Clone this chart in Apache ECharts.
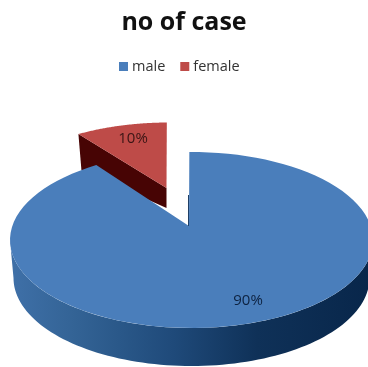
<!DOCTYPE html>
<html><head><meta charset="utf-8">
<style>html,body{margin:0;padding:0;background:#fff}#c{width:368px;height:367px}#c canvas{filter:blur(.45px)}</style>
<script src="https://cdn.jsdelivr.net/npm/echarts@6/dist/echarts.min.js"></script>
</head><body><div id="c"></div>
<script>
var categories = ['male', 'female'];
var values = [90, 10];
var labels = ['90%', '10%'];
var colors = ['#4a7ebb', '#be4b48'];

var chart = echarts.init(document.getElementById('c'), null, {renderer: 'canvas'});
var CX = 191.5, CY = 240, RX = 181.5, RY = 88, APEX = 14 / 88, START = -0.014;

function project(theta) {
  var t = theta + START;
  var u = Math.sin(t), v = -Math.cos(t);
  var d = 1 - APEX * v;
  return [u * Math.sqrt(1 - APEX * APEX) / d * RX, (v - APEX) / d * RY];
}
function arcPts(a0, a1) {
  var n = 90, pts = [];
  for (var i = 0; i <= n; i++) pts.push(project(a0 + (a1 - a0) * i / n));
  return pts;
}
function xf(pts, ox, oy, sx, sy) {
  return pts.map(function (p) { return [ox + p[0] * sx, oy + p[1] * (sy === undefined ? sx : sy)]; });
}
function ellipseLower(cx, cy, rx, ry, reverse) {
  var n = 90, pts = [];
  for (var i = 0; i <= n; i++) {
    var t = Math.PI * (reverse ? n - i : i) / n;
    pts.push([cx + rx * Math.cos(t), cy + ry * Math.sin(t)]);
  }
  return pts;
}
function poly(points, style, z) {
  return {type: 'polygon', shape: {points: points}, style: style, z2: z};
}

function renderItem(params, api) {
  var total = values[0] + values[1];
  var sweepMale = api.value(0, 0) / total * Math.PI * 2;
  var apex = [-2.5, -14];
  var children = [];

  // Female slice, pulled out of the pie: side wall then top
  var sx = 0.95, sy = 0.885;
  var fo = [166.5 - apex[0] * sx, 188 - apex[1] * sy];
  var fT = xf([apex].concat(arcPts(sweepMale, Math.PI * 2)), fo[0], fo[1], sx, sy);
  var left = fT[1];
  var fSide = [fT[0], left, [left[0] + 3, left[1] + 36], [fT[0][0], fT[0][1] + 20]];
  children.push(poly(fSide, {fill: '#470404'}, 1));
  children.push(poly(fT, {fill: colors[1]}, 2));

  // Male side wall
  var low = ellipseLower(CX, 278, 178, 88, false);
  var up = ellipseLower(CX, CY, RX, RY, true);
  children.push(poly(low.concat(up), {
    fill: new echarts.graphic.LinearGradient(0, 0, 1, 0, [
      {offset: 0, color: '#3f70a8'}, {offset: 0.18, color: '#336395'},
      {offset: 0.45, color: '#1f4a7a'}, {offset: 0.68, color: '#0f3158'},
      {offset: 1, color: '#08264a'}
    ])
  }, 3));
  // Male top
  var mTop = xf([apex].concat(arcPts(0, sweepMale)), CX, CY, 1);
  children.push(poly(mTop, {fill: colors[0]}, 4));
  // Edge-on cut face at the 12 o'clock edge
  children.push({type: 'line', shape: {x1: 188.5, y1: 226, x2: 188.5, y2: 195},
    style: {stroke: '#1f3f66', lineWidth: 1}, z2: 5});

  return {type: 'group', children: children};
}

chart.setOption({
  animation: false,
  title: {text: 'no of case', left: 'center', top: 5,
    textStyle: {fontFamily: 'Open Sans', fontSize: 25, fontWeight: 'bold', color: '#111'}},
  legend: {data: categories, top: 54, left: 114, itemWidth: 9, itemHeight: 9, itemGap: 15, icon: 'rect',
    textStyle: {fontFamily: 'Open Sans', fontSize: 14.5, color: '#333', padding: [0, 0, 0, -1]}},
  series: [
    {name: 'male', type: 'custom', coordinateSystem: 'none', data: [[values[0]]], renderItem: renderItem,
     itemStyle: {color: colors[0]}, silent: true},
    {name: 'female', type: 'custom', coordinateSystem: 'none', data: [[values[1]]],
     renderItem: function () { return {type: 'group', children: []}; },
     itemStyle: {color: colors[1]}, silent: true},
    {type: 'custom', coordinateSystem: 'none', data: [[0]], silent: true, z: 5, renderItem: function () {
      return {type: 'group', children: [
        {type: 'text', x: 248, y: 301, style: {text: labels[0], fontFamily: 'Open Sans', fontSize: 15, fill: '#0d2240', align: 'center', verticalAlign: 'middle'}},
        {type: 'text', x: 133, y: 139, style: {text: labels[1], fontFamily: 'Open Sans', fontSize: 15, fill: '#3a1515', align: 'center', verticalAlign: 'middle'}}
      ]};
    }}
  ]
});
</script></body></html>
